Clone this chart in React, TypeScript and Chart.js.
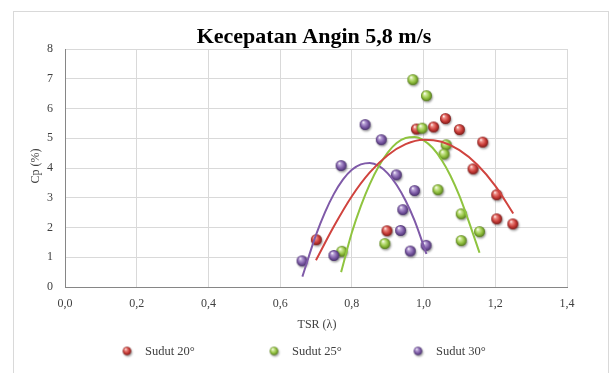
import React, { useEffect, useRef } from "react";
import { Chart, registerables } from "chart.js";

Chart.register(...registerables);

// ---- Data ----
const seriesNames = ["Sudut 20°", "Sudut 25°", "Sudut 30°"];

const tsr20 = [0.701, 0.898, 0.98, 1.028, 1.061, 1.1, 1.165, 1.138, 1.204, 1.204, 1.249];
const cp20 = [1.59, 1.89, 5.31, 5.38, 5.66, 5.29, 4.87, 3.97, 3.1, 2.29, 2.12];

const tsr25 = [0.772, 0.892, 0.97, 1.008, 0.996, 1.063, 1.057, 1.04, 1.105, 1.156, 1.105];
const cp25 = [1.2, 1.46, 6.97, 6.43, 5.34, 4.78, 4.47, 3.27, 2.46, 1.86, 1.56];

const tsr30 = [0.661, 0.75, 0.77, 0.837, 0.882, 0.924, 0.975, 0.942, 0.936, 1.007, 0.963];
const cp30 = [0.88, 1.06, 4.08, 5.46, 4.95, 3.77, 3.24, 2.6, 1.9, 1.4, 1.21];

// trend lines
const trendX20 = [0.7, 0.75, 0.8, 0.85, 0.9, 0.95, 1.0, 1.05, 1.1, 1.15, 1.2, 1.25];
const trendY20 = [0.9, 2.04, 3.05, 3.85, 4.43, 4.8, 4.95, 4.88, 4.6, 4.11, 3.4, 2.47];

const trendX25 = [0.77, 0.8, 0.825, 0.85, 0.875, 0.9, 0.925, 0.95, 0.975, 1.0, 1.025, 1.05, 1.075, 1.1, 1.125, 1.156];
const trendY25 = [0.5, 1.83, 2.72, 3.46, 4.06, 4.52, 4.84, 5.01, 5.04, 4.93, 4.68, 4.28, 3.74, 3.06, 2.24, 1.15];

const trendX30 = [0.662, 0.7, 0.725, 0.75, 0.775, 0.8, 0.825, 0.85, 0.875, 0.9, 0.925, 0.95, 0.975, 1.008];
const trendY30 = [0.35, 1.75, 2.51, 3.13, 3.61, 3.94, 4.12, 4.17, 4.07, 3.82, 3.43, 2.9, 2.23, 1.11];

const xMin = 0;
const xMax = 1.4;
const xStep = 0.2;
const yMin = 0;
const yMax = 8;
const yStep = 1;

const titleText = "Kecepatan Angin 5,8 m/s";
const xTitle = "TSR (λ)";
const yTitle = "Cp (%)";

const SERIF = "'Liberation Serif', 'Times New Roman', serif";

function toPts(xs: number[], ys: number[]) {
  return xs.map((x, i) => ({ x, y: ys[i] }));
}

function makeBall(base: string, light: string, dark: string, r: number) {
  const pad = 4;
  const size = Math.ceil(2 * r + pad * 2);
  const c = document.createElement("canvas");
  c.width = size;
  c.height = size;
  const ctx = c.getContext("2d")!;
  const cx = size / 2;
  const cy = size / 2;
  ctx.save();
  ctx.shadowColor = "rgba(0,0,0,0.35)";
  ctx.shadowBlur = 2;
  ctx.shadowOffsetX = 1;
  ctx.shadowOffsetY = 1.5;
  const g = ctx.createRadialGradient(cx - r * 0.35, cy - r * 0.45, r * 0.05, cx, cy, r);
  g.addColorStop(0, "#ffffff");
  g.addColorStop(0.22, light);
  g.addColorStop(0.65, base);
  g.addColorStop(1, dark);
  ctx.fillStyle = g;
  ctx.beginPath();
  ctx.arc(cx, cy, r, 0, Math.PI * 2);
  ctx.fill();
  ctx.restore();
  return c;
}

const palette = [
  { base: "#c93b37", light: "#ee9089", dark: "#7a1c1a", line: "#d0433e" },
  { base: "#90c03d", light: "#d2ea9e", dark: "#55791d", line: "#8fc43f" },
  { base: "#7c5aa5", light: "#bba5d8", dark: "#47306a", line: "#7f5aa8" },
];

export default function App() {
  const ref = useRef<HTMLCanvasElement | null>(null);

  useEffect(() => {
    if (!ref.current) return;
    const balls = palette.map((p) => makeBall(p.base, p.light, p.dark, 5.5));
    const legendBalls = palette.map((p) => makeBall(p.base, p.light, p.dark, 4.3));

    const overlay = {
      id: "overlay",
      afterDraw(chart: any) {
        const ctx = chart.ctx as CanvasRenderingContext2D;
        ctx.save();
        // outer frame
        ctx.strokeStyle = "#d9d9d9";
        ctx.lineWidth = 1;
        ctx.strokeRect(13.5, 11.5, 595, 372);
        // title
        ctx.fillStyle = "#000000";
        ctx.font = `bold 22px ${SERIF}`;
        ctx.textAlign = "center";
        ctx.textBaseline = "alphabetic";
        ctx.fillText(titleText, 314, 43);
        // x title
        ctx.fillStyle = "#404040";
        ctx.font = `12px ${SERIF}`;
        ctx.textBaseline = "middle";
        ctx.fillText(xTitle, 317, 325);
        // y title
        ctx.save();
        ctx.translate(36, 166);
        ctx.rotate(-Math.PI / 2);
        ctx.fillText(yTitle, 0, 0);
        ctx.restore();
        // legend
        const lx = [127, 274, 418];
        ctx.textAlign = "left";
        ctx.font = `12.5px ${SERIF}`;
        for (let i = 0; i < seriesNames.length; i++) {
          const b = legendBalls[i];
          ctx.drawImage(b, lx[i] - b.width / 2, 351 - b.height / 2);
          ctx.fillStyle = "#404040";
          ctx.fillText(seriesNames[i], lx[i] + 18, 351.5);
        }
        ctx.restore();
      },
    };

    const tickFont = { family: SERIF, size: 12 };

    const chart = new Chart(ref.current, {
      type: "scatter",
      data: {
        datasets: [
          {
            label: "trend20",
            data: toPts(trendX20, trendY20),
            showLine: true,
            borderColor: palette[0].line,
            borderWidth: 2,
            pointRadius: 0,
            cubicInterpolationMode: "monotone",
            order: 0,
          } as any,
          {
            label: "trend25",
            data: toPts(trendX25, trendY25),
            showLine: true,
            borderColor: palette[1].line,
            borderWidth: 2,
            pointRadius: 0,
            cubicInterpolationMode: "monotone",
            order: 0,
          } as any,
          {
            label: "trend30",
            data: toPts(trendX30, trendY30),
            showLine: true,
            borderColor: palette[2].line,
            borderWidth: 2,
            pointRadius: 0,
            cubicInterpolationMode: "monotone",
            order: 0,
          } as any,
          {
            label: seriesNames[2],
            data: toPts(tsr30, cp30),
            pointStyle: balls[2],
            order: 1,
          } as any,
          {
            label: seriesNames[1],
            data: toPts(tsr25, cp25),
            pointStyle: balls[1],
            order: 2,
          } as any,
          {
            label: seriesNames[0],
            data: toPts(tsr20, cp20),
            pointStyle: balls[0],
            order: 3,
          } as any,
        ],
      },
      options: {
        responsive: false,
        animation: false,
        events: [],
        layout: { padding: { left: 0, right: 47, top: 49, bottom: 0 } },
        plugins: {
          legend: { display: false },
          title: { display: false },
          tooltip: { enabled: false },
        },
        scales: {
          x: {
            type: "linear",
            min: xMin,
            max: xMax,
            ticks: {
              stepSize: xStep,
              font: tickFont,
              color: "#404040",
              padding: 10,
              callback: (v: any) => Number(v).toFixed(1).replace(".", ","),
            },
            grid: { color: "#d9d9d9", drawTicks: false },
            border: { color: "#868686" },
            afterFit: (s: any) => {
              s.height = 373 - 287;
            },
          },
          y: {
            min: yMin,
            max: yMax,
            ticks: {
              stepSize: yStep,
              font: tickFont,
              color: "#404040",
              padding: 12,
            },
            grid: { color: "#d9d9d9", drawTicks: false },
            border: { color: "#868686" },
            afterFit: (s: any) => {
              s.width = 65;
            },
          },
        },
      } as any,
      plugins: [overlay],
    });
    return () => chart.destroy();
  }, []);

  return (
    <div style={{ position: "fixed", left: 0, top: 0, width: 614, height: 373, background: "#ffffff" }}>
      <canvas ref={ref} width={614} height={373} style={{ display: "block" }} />
    </div>
  );
}
